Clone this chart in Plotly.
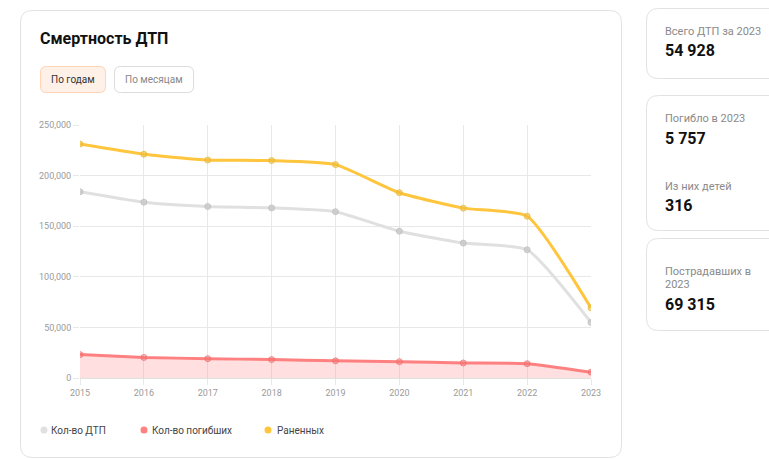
import plotly.graph_objects as go

# Годовые данные по ДТП
years = [2015, 2016, 2017, 2018, 2019, 2020, 2021, 2022, 2023]
accidents = [184000, 173694, 169432, 168099, 164358, 145073, 133331, 126705, 54928]
deaths = [23114, 20308, 19088, 18214, 16981, 16152, 14874, 14172, 5757]
injured = [231197, 221140, 215374, 214853, 210877, 183040, 167856, 159877, 69315]

series_names = ["Кол-во ДТП", "Кол-во погибших", "Раненных"]
y_ticks = [0, 50000, 100000, 150000, 200000, 250000]

W, H = 769, 459
L, R, T, B = 80, 178, 125, 81
PW, PH = W - L - R, H - T - B


def px(x):
    return (x - L) / PW


def py(y):
    return 1 - (y - T) / PH


def rounded_rect(x0, y0, x1, y1, r):
    # SVG path in paper coordinates for a rounded rectangle given pixel bounds
    pts = [
        f"M {px(x0 + r)},{py(y0)}",
        f"L {px(x1 - r)},{py(y0)}",
        f"Q {px(x1)},{py(y0)} {px(x1)},{py(y0 + r)}",
        f"L {px(x1)},{py(y1 - r)}",
        f"Q {px(x1)},{py(y1)} {px(x1 - r)},{py(y1)}",
        f"L {px(x0 + r)},{py(y1)}",
        f"Q {px(x0)},{py(y1)} {px(x0)},{py(y1 - r)}",
        f"L {px(x0)},{py(y0 + r)}",
        f"Q {px(x0)},{py(y0)} {px(x0 + r)},{py(y0)}",
        "Z",
    ]
    return " ".join(pts)


fig = go.Figure()

colors = {
    "acc": "#e0e0e0",
    "dead": "#ff8080",
    "inj": "#ffc53d",
}

fig.add_trace(go.Scatter(
    x=years, y=deaths, name=series_names[1], mode="lines+markers",
    line=dict(color=colors["dead"], width=3, shape="spline", smoothing=0.5),
    marker=dict(size=6, color="rgba(240,110,110,0.45)", line=dict(color="rgba(240,110,110,0.7)", width=1)),
    fill="tozeroy", fillcolor="rgba(255,127,127,0.25)",
))
fig.add_trace(go.Scatter(
    x=years, y=accidents, name=series_names[0], mode="lines+markers",
    line=dict(color=colors["acc"], width=3, shape="spline", smoothing=0.5),
    marker=dict(size=6, color="rgba(190,190,190,0.6)", line=dict(color="rgba(190,190,190,0.8)", width=1)),
))
fig.add_trace(go.Scatter(
    x=years, y=injured, name=series_names[2], mode="lines+markers",
    line=dict(color=colors["inj"], width=3, shape="spline", smoothing=0.5),
    marker=dict(size=6, color="rgba(235,185,60,0.55)", line=dict(color="rgba(235,185,60,0.8)", width=1)),
))

shapes = []
# Main card and stat cards
shapes.append(dict(type="path", xref="paper", yref="paper", layer="below",
                   path=rounded_rect(20.5, 10.5, 621.5, 457.5, 12),
                   line=dict(color="#e2e2e2", width=1), fillcolor="white"))
for (y0, y1) in [(8.5, 78.5), (95.5, 230.5), (238.5, 330.5)]:
    shapes.append(dict(type="path", xref="paper", yref="paper", layer="below",
                       path=rounded_rect(646.5, y0, 800, y1, 12),
                       line=dict(color="#e2e2e2", width=1), fillcolor="white"))
# Toggle buttons
shapes.append(dict(type="path", xref="paper", yref="paper",
                   path=rounded_rect(40.5, 66.5, 105.5, 92.5, 6),
                   line=dict(color="#ffd3b3", width=1), fillcolor="#fff1e8"))
shapes.append(dict(type="path", xref="paper", yref="paper",
                   path=rounded_rect(114.5, 66.5, 193.5, 92.5, 6),
                   line=dict(color="#dcdcdc", width=1), fillcolor="white"))

annotations = []


def text(x, y, s, size, color, bold=False, anchor="left"):
    annotations.append(dict(
        x=px(x), y=py(y), xref="paper", yref="paper", text=f"<b>{s}</b>" if bold else s,
        showarrow=False, xanchor=anchor, yanchor="middle",
        font=dict(size=size, color=color, family="Roboto"),
    ))


text(38, 39, "Смертность ДТП", 16, "#111", bold=True)
text(73, 80, "По годам", 10, "#333", anchor="center")
text(154, 80, "По месяцам", 10, "#888", anchor="center")

# Legend
legend_items = [(44, colors["acc"]), (144, colors["dead"]), (268, colors["inj"])]
legend_text_x = [49, 150, 275]
for (cx, c), tx, name in zip(legend_items, legend_text_x, series_names):
    shapes.append(dict(type="circle", xref="paper", yref="paper",
                       x0=px(cx - 3.5), x1=px(cx + 3.5), y0=py(430 + 3.5), y1=py(430 - 3.5),
                       line=dict(width=0), fillcolor=c))
    text(tx, 430, name, 10, "#444")

# Stat cards
text(663, 32, "Всего ДТП за 2023", 11, "#8a8a8a")
text(663, 51, "54 928", 16, "#111", bold=True)
text(663, 119, "Погибло в 2023", 11, "#8a8a8a")
text(663, 138, "5 757", 16, "#111", bold=True)
text(663, 186, "Из них детей", 11, "#8a8a8a")
text(663, 205, "316", 16, "#111", bold=True)
text(663, 271, "Пострадавших в", 11, "#8a8a8a")
text(663, 284, "2023", 11, "#8a8a8a")
text(663, 304, "69 315", 16, "#111", bold=True)

fig.update_layout(
    width=W, height=H,
    margin=dict(l=L, r=R, t=T, b=B),
    paper_bgcolor="white", plot_bgcolor="rgba(0,0,0,0)",
    showlegend=False,
    shapes=shapes, annotations=annotations,
    font=dict(family="Roboto"),
    xaxis=dict(
        range=[2015, 2023], tickvals=years, ticktext=[str(y) for y in years],
        showgrid=True, gridcolor="#e8e8e8", gridwidth=1, zeroline=False,
        ticks="outside", ticklen=6, tickcolor="#e8e8e8",
        tickfont=dict(size=9, color="#9a9a9a"), showline=False,
    ),
    yaxis=dict(
        range=[0, 250000], tickvals=y_ticks, tickformat=",",
        showgrid=True, gridcolor="#e8e8e8", gridwidth=1, zeroline=True,
        zerolinecolor="#e0e0e0", zerolinewidth=1,
        ticks="outside", ticklen=6, tickcolor="#e8e8e8",
        tickfont=dict(size=9, color="#9a9a9a"), showline=False,
    ),
)

fig.write_html("out.html")
